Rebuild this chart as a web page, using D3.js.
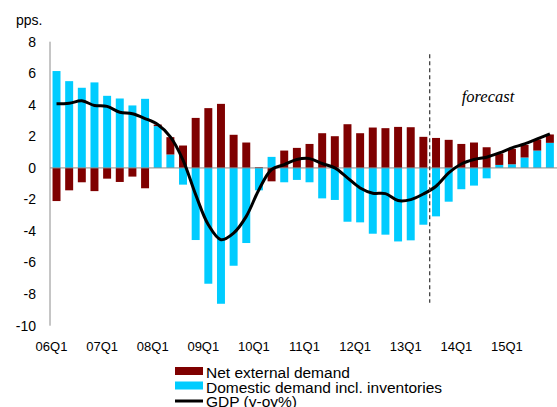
<!DOCTYPE html>
<html lang="en">
<head>
    <meta charset="UTF-8">
    <title></title>
    <script src="https://cdn.jsdelivr.net/npm/d3@7"></script>
    <style>
        body { margin: 0; background: #fff; }
        text { font-family: "Liberation Sans", Arial, sans-serif; }
    </style>
</head>
<body>
    <div id="root"></div>
    <script>
        // quarters 06Q1 .. 15Q4
        const quarters = [];
        for (let y = 6; y <= 15; y++) {
            for (let q = 1; q <= 4; q++) {
                quarters.push(String(y).padStart(2, '0') + 'Q' + q);
            }
        }
        const netExternal = [-2.1, -1.42, -0.91, -1.47, -0.68, -0.89, -0.55, -1.29,
            0.1, 1.1, 1.42, 3.17, 3.79, 4.06, 2.1, 1.61,
            0.05, -0.85, 1.1, 1.27, 1.52, 2.2, 2.01, 2.77,
            2.2, 2.56, 2.52, 2.6, 2.58, 1.97, 1.9, 1.78,
            1.52, 1.61, 1.31, 0.72, 0.98, 0.8, 0.7, 0.53];
        const domestic = [6.14, 5.5, 5.08, 5.42, 4.57, 4.4, 3.96, 4.38,
            2.65, 0.85, -1.06, -4.57, -7.34, -8.61, -6.2, -4.76,
            -1.42, 0.7, -0.91, -0.76, -0.91, -1.93, -2.03, -3.41,
            -3.45, -4.17, -4.23, -4.66, -4.59, -3.6, -3.07, -2.14,
            -1.35, -1.12, -0.66, 0.19, 0.23, 0.66, 1.1, 1.59];
        const gdp = [4.06, 4.1, 4.25, 3.96, 3.9, 3.53, 3.43, 3.13,
            2.75, 1.97, 0.5, -1.69, -3.6, -4.55, -4.13, -3.07,
            -1.38, -0.1, 0.21, 0.53, 0.59, 0.28, 0.0, -0.63,
            -1.27, -1.6, -1.63, -2.07, -2.01, -1.65, -1.16, -0.32,
            0.25, 0.53, 0.68, 0.95, 1.27, 1.52, 1.84, 2.16];
        const yTicks = [8, 6, 4, 2, 0, -2, -4, -6, -8, -10];
        const xLabels = quarters.filter(q => q.endsWith('Q1'));
        const forecastStart = '13Q3';
        const legendItems = ['Net external demand', 'Domestic demand incl. inventories', 'GDP (y-oy%)'];

        const width = 557, height = 407;
        const colors = { net: '#7f0000', dom: '#00ccff' };

        const svg = d3.select('#root').append('svg')
            .attr('width', width)
            .attr('height', height);

        const x = d3.scaleBand()
            .domain(quarters)
            .range([50, 556.4])
            .paddingInner(0.37)
            .paddingOuter(0.2);
        const y = d3.scaleLinear()
            .domain([-10, 8])
            .range([325.7, 41.7]);

        // stacked bars, domestic at the base
        const table = quarters.map((q, i) => ({ q: q, dom: domestic[i], net: netExternal[i] }));
        const series = d3.stack()
            .keys(['dom', 'net'])
            .offset(d3.stackOffsetDiverging)(table);

        svg.append('g').selectAll('g')
            .data(series)
            .enter().append('g')
            .attr('fill', d => colors[d.key])
            .selectAll('rect')
            .data(d => d)
            .enter().append('rect')
            .attr('x', d => x(d.data.q))
            .attr('width', x.bandwidth())
            .attr('y', d => y(Math.max(d[0], d[1])))
            .attr('height', d => Math.abs(y(d[0]) - y(d[1])));

        // axes lines
        svg.append('line')
            .attr('x1', 50).attr('x2', width)
            .attr('y1', y(0)).attr('y2', y(0))
            .attr('stroke', '#8c8c8c').attr('stroke-width', 1);
        svg.append('line')
            .attr('x1', 50).attr('x2', 50)
            .attr('y1', y(8)).attr('y2', y(-10))
            .attr('stroke', '#8c8c8c').attr('stroke-width', 1);

        // GDP line
        const line = d3.line()
            .x((d, i) => x(quarters[i]) + x.bandwidth() / 2)
            .y(d => y(d))
            .curve(d3.curveCatmullRom.alpha(0.5));
        svg.append('path')
            .datum(gdp)
            .attr('fill', 'none')
            .attr('stroke', '#000')
            .attr('stroke-width', 3)
            .attr('d', line);

        // forecast divider
        const fx = x(forecastStart) - x.step() * x.paddingInner() / 2;
        svg.append('line')
            .attr('x1', fx).attr('x2', fx)
            .attr('y1', y(7.2)).attr('y2', y(-8.55))
            .attr('stroke', '#333')
            .attr('stroke-width', 1.2)
            .attr('stroke-dasharray', '4,3');
        svg.append('text')
            .attr('x', 488).attr('y', 102)
            .attr('text-anchor', 'middle')
            .style('font-family', '"Liberation Serif", "Times New Roman", serif')
            .style('font-style', 'italic')
            .style('font-size', '16.5px')
            .text('forecast');

        // y tick labels
        svg.append('g').selectAll('text')
            .data(yTicks)
            .enter().append('text')
            .attr('x', 36)
            .attr('y', d => y(d))
            .attr('dy', '0.35em')
            .attr('text-anchor', 'end')
            .style('font-size', '14px')
            .attr('fill', '#000')
            .text(d => d);
        svg.append('text')
            .attr('x', 16).attr('y', 25)
            .style('font-size', '14px')
            .text('pps.');

        // x labels
        svg.append('g').selectAll('text')
            .data(xLabels)
            .enter().append('text')
            .attr('x', d => x(d) + x.bandwidth() / 2 - 5)
            .attr('y', 351)
            .attr('text-anchor', 'middle')
            .style('font-size', '13px')
            .text(d => d);

        // legend
        const legend = svg.append('g').attr('transform', 'translate(175,367)');
        legendItems.forEach((name, i) => {
            const g = legend.append('g').attr('transform', 'translate(0,' + (i * 14.5) + ')');
            if (i < 2) {
                g.append('rect')
                    .attr('width', 28).attr('height', 8)
                    .attr('fill', i === 0 ? colors.net : colors.dom);
            } else {
                g.append('line')
                    .attr('x1', 0).attr('x2', 28)
                    .attr('y1', 5).attr('y2', 5)
                    .attr('stroke', '#000').attr('stroke-width', 3);
            }
            g.append('text')
                .attr('x', 31).attr('y', 11)
                .style('font-size', '15.5px')
                .text(name);
        });
    </script>
</body>
</html>
